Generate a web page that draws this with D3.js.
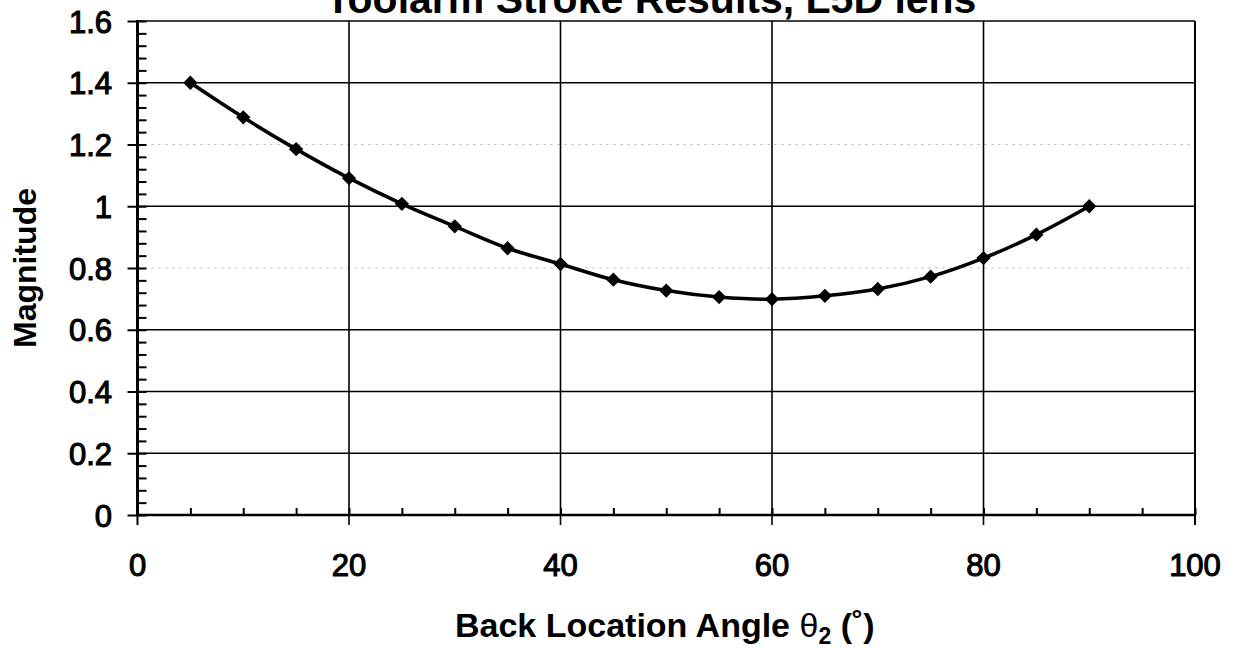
<!DOCTYPE html>
<html>
<head>
<meta charset="utf-8">
<script src="https://cdn.jsdelivr.net/npm/d3@7"></script>
<style>
  body { margin: 0; background: #fff; }
  text { font-family: "Liberation Sans", Arial, sans-serif; fill: #000; }
  .tick-label { font-size: 31px; stroke: #000; stroke-width: 1.1px; }
  .axis-title { font-size: 34px; font-weight: bold; }
</style>
</head>
<body>
<div id="chart"></div>
<script>
// values
var angles = [5, 10, 15, 20, 25, 30, 35, 40, 45, 50, 55, 60, 65, 70, 75, 80, 85, 90];
var magnitudes = [1.40, 1.288, 1.185, 1.091, 1.008, 0.935, 0.864, 0.813, 0.762, 0.727, 0.706, 0.699, 0.710, 0.732, 0.772, 0.832, 0.908, 1.0];
var xTicks = [0, 20, 40, 60, 80, 100];
var yTicks = [0, 0.2, 0.4, 0.6, 0.8, 1, 1.2, 1.4, 1.6];
var fadedLines = [0.8, 1.2];

window.onload = function(){
  makeChart();
};

function makeChart(){
  var outerWidth = 1235,
      outerHeight = 648,
      left = 137.5,
      right = 1195,
      top = 21,
      bottom = 515;

  var x = d3.scaleLinear().domain([0, 100]).range([left, right]);
  var y = d3.scaleLinear().domain([0, 1.6]).range([bottom, top]);

  var svg = d3.select("#chart").append("svg")
      .attr("width", outerWidth)
      .attr("height", outerHeight);

  // title, cut off at the top edge like the scan
  svg.append("text")
      .attr("x", 651)
      .attr("y", 13)
      .attr("text-anchor", "middle")
      .style("font-size", "41px")
      .style("font-weight", "bold")
      .text("Toolarm Stroke Results, L5D lens");

  // horizontal grid
  svg.append("g").selectAll("line")
      .data(yTicks.filter(function(d){ return d > 0; }))
    .enter().append("line")
      .attr("x1", left)
      .attr("x2", right)
      .attr("y1", function(d){ return y(d); })
      .attr("y2", function(d){ return y(d); })
      .attr("stroke", function(d){ return fadedLines.indexOf(d) >= 0 ? "#b0b0b0" : "#000"; })
      .attr("stroke-width", function(d){ return fadedLines.indexOf(d) >= 0 ? 1.2 : 1.6; })
      .attr("stroke-dasharray", function(d){ return fadedLines.indexOf(d) >= 0 ? "2,5" : null; });

  // vertical grid, crossing the bottom axis as the major tick
  svg.append("g").selectAll("line")
      .data(xTicks.filter(function(d){ return d > 0; }))
    .enter().append("line")
      .attr("x1", function(d){ return x(d); })
      .attr("x2", function(d){ return x(d); })
      .attr("y1", top)
      .attr("y2", bottom + 10)
      .attr("stroke", "#000")
      .attr("stroke-width", function(d){ return d == 100 ? 2 : 1.6; });

  // x axis: minor ticks inside, major outside
  var xAxis = d3.axisTop(x)
      .tickValues(d3.range(0, 101, 5))
      .tickSize(7)
      .tickFormat("");
  svg.append("g")
      .attr("transform", "translate(0," + bottom + ")")
      .call(xAxis)
      .call(function(g){
        g.select(".domain").remove();
        g.selectAll("line").attr("stroke-width", 2);
      });

  svg.append("line")
      .attr("x1", left).attr("x2", right)
      .attr("y1", bottom).attr("y2", bottom)
      .attr("stroke", "#000").attr("stroke-width", 2.5);

  svg.append("line")
      .attr("x1", left).attr("x2", left)
      .attr("y1", bottom).attr("y2", bottom + 10)
      .attr("stroke", "#000").attr("stroke-width", 2);

  svg.append("g").selectAll("text")
      .data(xTicks)
    .enter().append("text")
      .attr("class", "tick-label")
      .attr("x", function(d){ return x(d); })
      .attr("y", 576)
      .attr("text-anchor", "middle")
      .text(function(d){ return d; });

  // y axis: minor ticks inside every 0.04, major outside
  var yMinor = d3.axisRight(y)
      .tickValues(d3.range(0, 41).map(function(i){ return i * 0.04; }))
      .tickSize(9)
      .tickFormat("");
  svg.append("g")
      .attr("transform", "translate(" + left + ",0)")
      .call(yMinor)
      .call(function(g){
        g.select(".domain").remove();
        g.selectAll("line").attr("stroke-width", 2);
      });

  var yMajor = d3.axisLeft(y)
      .tickValues(yTicks)
      .tickSize(10)
      .tickFormat("");
  svg.append("g")
      .attr("transform", "translate(" + left + ",0)")
      .call(yMajor)
      .call(function(g){
        g.select(".domain").remove();
        g.selectAll("line").attr("stroke-width", 2);
      });

  svg.append("line")
      .attr("x1", left).attr("x2", left)
      .attr("y1", top - 1).attr("y2", bottom + 1)
      .attr("stroke", "#000").attr("stroke-width", 3);

  svg.append("g").selectAll("text")
      .data(yTicks)
    .enter().append("text")
      .attr("class", "tick-label")
      .attr("x", 112)
      .attr("y", function(d){ return y(d) + 11.5; })
      .attr("text-anchor", "end")
      .text(function(d){ return d; });

  // axis titles
  var xTitle = svg.append("text")
      .attr("class", "axis-title")
      .attr("x", 455)
      .attr("y", 637);
  xTitle.append("tspan").text("Back Location Angle ");
  xTitle.append("tspan")
      .style("font-weight", "normal")
      .text("θ");
  xTitle.append("tspan")
      .attr("dy", 7)
      .style("font-size", "23px")
      .text("2");
  xTitle.append("tspan")
      .attr("dy", -7)
      .text(" (˚)");

  svg.append("text")
      .attr("class", "axis-title")
      .attr("transform", "translate(36,268) rotate(-90)")
      .attr("text-anchor", "middle")
      .style("font-size", "32px")
      .text("Magnitude");

  // series
  var line = d3.line()
      .x(function(d, i){ return x(angles[i]); })
      .y(function(d){ return y(d); })
      .curve(d3.curveCatmullRom);

  svg.append("path")
      .datum(magnitudes)
      .attr("fill", "none")
      .attr("stroke", "#000")
      .attr("stroke-width", 3.6)
      .attr("d", line);

  svg.append("g").selectAll("path")
      .data(magnitudes)
    .enter().append("path")
      .attr("d", d3.symbol().type(d3.symbolDiamond2).size(130))
      .attr("transform", function(d, i){ return "translate(" + x(angles[i]) + "," + y(d) + ")"; })
      .attr("fill", "#000");
}
</script>
</body>
</html>
